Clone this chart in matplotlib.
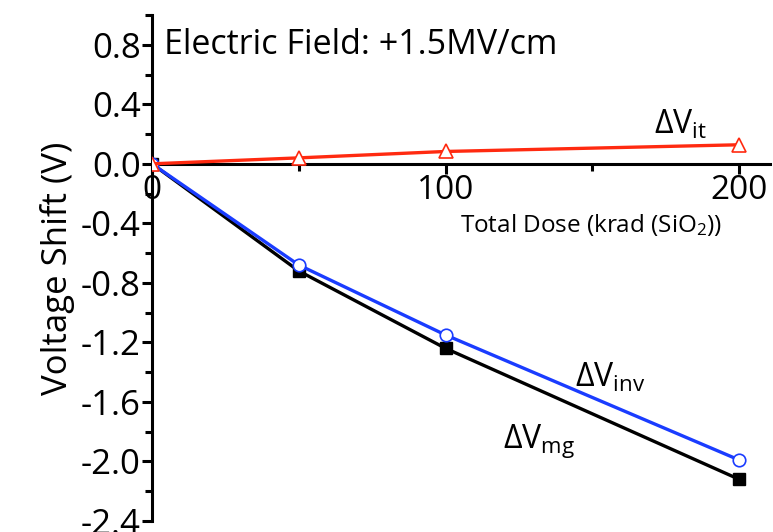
import matplotlib
matplotlib.use("Agg")
import matplotlib.pyplot as plt
from matplotlib.ticker import MultipleLocator

plt.rcParams["font.family"] = ["Open Sans", "DejaVu Sans"]
plt.rcParams["mathtext.fontset"] = "custom"
plt.rcParams["mathtext.rm"] = "Open Sans"
plt.rcParams["mathtext.it"] = "Open Sans"

# data
dose = [0, 50, 100, 200]
dv_it = [0.0, 0.04, 0.083, 0.128]
dv_inv = [0.0, -0.68, -1.15, -1.99]
dv_mg = [0.0, -0.72, -1.24, -2.12]
ytick_vals = [0.8, 0.4, 0.0, -0.4, -0.8, -1.2, -1.6, -2.0, -2.4]
ytick_labels = ["0.8", "0.4", "0.0", "-0.4", "-0.8", "-1.2", "-1.6", "-2.0", "-2.4"]

fig = plt.figure(figsize=(7.73, 5.32), dpi=100)
ax = fig.add_axes([152 / 773, 11 / 532, 618 / 773, 506 / 532])

ax.plot(dose, dv_mg, color="black", lw=2.4, marker="s", ms=8,
        mfc="black", mec="black", zorder=3)
ax.plot(dose, dv_inv, color="#1a3cff", lw=2.4, marker="o", ms=9,
        mfc="white", mec="#1a3cff", mew=1.2, zorder=4)
ax.plot(dose, dv_it, color="#ff2a10", lw=2.4, marker="^", ms=10,
        mfc="white", mec="#ff2a10", mew=1.2, zorder=5)

ax.set_xlim(0, 210.5)
ax.set_ylim(-2.4, 1.0)

ax.spines["top"].set_visible(False)
ax.spines["right"].set_visible(False)
ax.spines["bottom"].set_position(("data", 0))
for s in ("left", "bottom"):
    ax.spines[s].set_linewidth(2.2)

ax.xaxis.set_major_locator(MultipleLocator(100))
ax.xaxis.set_minor_locator(MultipleLocator(50))
ax.yaxis.set_minor_locator(MultipleLocator(0.2))
ax.set_yticks(ytick_vals)
ax.set_yticklabels(ytick_labels)
ax.tick_params(axis="both", which="major", direction="out", length=7,
               width=2.2, labelsize=25, pad=1)
ax.tick_params(axis="both", which="minor", direction="out", length=5,
               width=2.2)
ax.tick_params(axis="x", labelsize=24, pad=0)

ax.set_ylabel("Voltage Shift (V)", fontsize=25, labelpad=4)
ax.text(149.6, -0.41, r"Total Dose (krad (SiO$_2$))", fontsize=17.5,
        ha="center", va="center")
ax.text(4, 0.8, "Electric Field: +1.5MV/cm", fontsize=24.5,
        ha="left", va="center")
ax.text(180, 0.26, r"$\Delta$V$_{\mathrm{it}}$", fontsize=23, ha="center", va="center")
ax.text(156, -1.44, r"$\Delta$V$_{\mathrm{inv}}$", fontsize=23, ha="center", va="center")
ax.text(132, -1.86, r"$\Delta$V$_{\mathrm{mg}}$", fontsize=23, ha="center", va="center")

fig.savefig("out.png", dpi=100)
